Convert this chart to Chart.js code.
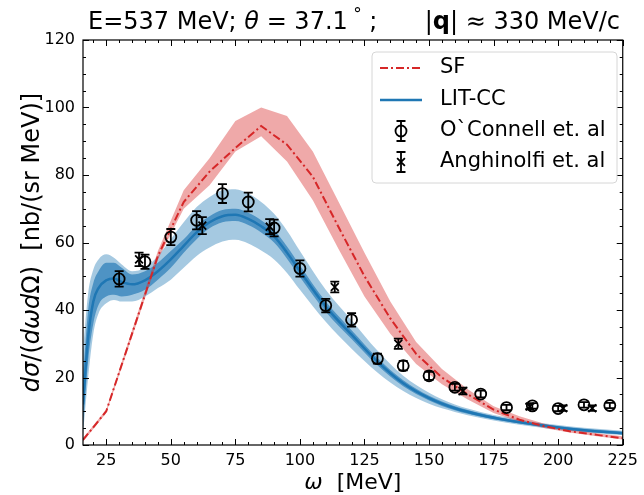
<!DOCTYPE html>
<html><head><meta charset="utf-8">
<script src="https://cdn.jsdelivr.net/npm/chart.js@4.4.1/dist/chart.umd.min.js"></script>
<style>html,body{margin:0;padding:0;background:#fff}canvas{display:block}</style>
</head><body>
<canvas id="c" width="644" height="495"></canvas>
<script>
const FONT = "'DejaVu Sans', sans-serif";

// ---- data ----
const xTicks = [25, 50, 75, 100, 125, 150, 175, 200, 225];
const yTicks = [0, 20, 40, 60, 80, 100, 120];

const sfOmega = [16, 25, 35, 45, 55, 65, 75, 85, 95, 105, 115, 125, 135, 145, 155, 165, 175, 185, 195, 205, 215, 225];
const sfLine  = [1.5, 10, 33, 56, 72, 81, 88, 94.5, 89, 79.5, 64.5, 50, 37.5, 27, 20, 15, 10.5, 7.5, 5.5, 4, 3, 2];
const sfUpper = [2, 10.5, 34, 57.5, 75.5, 85, 96, 100, 97.5, 87, 72, 57, 42.5, 30.5, 22.5, 16.5, 11.5, 8.5, 6.2, 4.6, 3.5, 2.6];
const sfLower = [1, 9.5, 32, 55, 70, 77, 87, 91.5, 84, 72.5, 58, 44, 33, 24, 18, 13.5, 9.5, 6.8, 5, 3.6, 2.6, 1.6];

const litOmega      = [16, 18, 20, 22, 25, 28, 31, 35, 40, 45, 50, 55, 60, 65, 70, 75, 80, 85, 90, 95, 100, 110, 120, 130, 140, 150, 160, 170, 180, 190, 200, 210, 225];
const litLine       = [12, 32, 42.5, 46.5, 48.8, 49.3, 48.3, 47.6, 48.8, 51.5, 55, 59, 63, 66, 67.8, 68.2, 67, 64.8, 61.8, 57, 51.5, 41, 32.7, 24.7, 18.3, 13.9, 10.9, 8.9, 7.4, 6.2, 5.2, 4.4, 3.5];
const litInnerUpper = [20, 40, 48, 51.5, 54, 54, 52.5, 50.5, 51.5, 54, 57.5, 61, 65, 67.8, 69.6, 70, 68.8, 66.6, 63.6, 58.8, 53.2, 42.5, 34, 25.8, 19.2, 14.6, 11.5, 9.4, 7.8, 6.6, 5.6, 4.8, 3.9];
const litInnerLower = [5, 25, 36, 41.5, 44, 44.5, 44, 44.5, 46, 49, 52.5, 57, 61, 64.2, 66, 66.4, 65.2, 63, 60, 55.2, 49.8, 39.5, 31.4, 23.6, 17.4, 13.2, 10.3, 8.4, 7, 5.8, 4.8, 4, 3.1];
const litOuterUpper = [28, 45, 52, 55, 56.5, 55.5, 53.5, 51.5, 52.5, 56, 61, 66, 70.5, 73.5, 75.5, 75.8, 74.5, 72, 68.5, 63.5, 57.5, 46, 37, 28, 20.5, 15.5, 12, 9.8, 8.2, 6.9, 5.9, 5.1, 4.2];
const litOuterLower = [3, 20, 33, 39, 42, 43, 42.5, 42.5, 44, 46.5, 49, 52.5, 56, 58.5, 60.3, 60.8, 59.7, 57.6, 55, 51, 46, 36.5, 28.5, 21.5, 16, 12.2, 9.8, 8, 6.6, 5.5, 4.5, 3.8, 2.9];

const ocOmega = [30, 40, 50, 60, 70, 80, 90, 100, 110, 120, 130, 140, 150, 160, 170, 180, 190, 200, 210, 220];
const ocValue = [49.2, 54.3, 61.6, 66.6, 74.5, 72, 64.3, 52.3, 41.3, 37.1, 25.6, 23.5, 20.5, 17.1, 15.1, 11.1, 11.6, 10.8, 11.9, 11.7];
const ocError = [2.3, 2.1, 2.4, 2.7, 2.8, 2.8, 2.5, 2.4, 2.0, 2.0, 1.5, 1.4, 1.2, 1.0, 1.0, 0.8, 0.8, 0.8, 0.8, 0.8];

const anOmega = [37.7, 62.2, 88.3, 113.5, 138.1, 163.1, 189, 201.9, 213.2];
const anValue = [55, 65, 64.7, 46.8, 30, 16, 11.4, 10.9, 10.9];
const anError = [2.0, 2.5, 2.2, 1.6, 1.5, 1.0, 0.8, 0.8, 0.8];

// ---- colours ----
const RED = '#d62728', BLUE = '#1f77b4';
const pts = (xs, ys) => xs.map((x, i) => ({x: x, y: ys[i]}));

const datasets = [
  {label: "O`Connell et. al", data: pts(ocOmega, ocValue), showLine: false, pointStyle: 'circle', pointRadius: 5.5,
   pointBorderWidth: 1.8, pointBorderColor: '#000', pointBackgroundColor: 'rgba(0,0,0,0)', order: 0},
  {label: 'Anghinolfi et. al', data: pts(anOmega, anValue), showLine: false, pointStyle: 'crossRot', pointRadius: 5.5,
   pointBorderWidth: 1.8, pointBorderColor: '#000', order: 0},
  {label: 'SF', data: pts(sfOmega, sfLine), borderColor: RED, borderWidth: 2, borderDash: [8, 3, 2, 3],
   pointRadius: 0, fill: false, tension: 0, order: 1},
  {label: 'LIT-CC', data: pts(litOmega, litLine), borderColor: BLUE, borderWidth: 2.5, pointRadius: 0,
   fill: false, cubicInterpolationMode: 'monotone', order: 1},
  {data: pts(sfOmega, sfUpper), borderWidth: 0, pointRadius: 0, fill: 5, backgroundColor: 'rgba(214,39,40,0.4)', tension: 0, order: 2},
  {data: pts(sfOmega, sfLower), borderWidth: 0, pointRadius: 0, fill: false, tension: 0, order: 2},
  {data: pts(litOmega, litInnerUpper), borderWidth: 0, pointRadius: 0, fill: 7, backgroundColor: 'rgba(31,119,180,0.65)', cubicInterpolationMode: 'monotone', order: 3},
  {data: pts(litOmega, litInnerLower), borderWidth: 0, pointRadius: 0, fill: false, cubicInterpolationMode: 'monotone', order: 3},
  {data: pts(litOmega, litOuterUpper), borderWidth: 0, pointRadius: 0, fill: 9, backgroundColor: 'rgba(31,119,180,0.4)', cubicInterpolationMode: 'monotone', order: 4},
  {data: pts(litOmega, litOuterLower), borderWidth: 0, pointRadius: 0, fill: false, cubicInterpolationMode: 'monotone', order: 4}
];

function drawSegments(ctx, segs, x, y, align) {
  let total = 0;
  const widths = segs.map(s => { ctx.font = (s[1] || '') + ' ' + Math.round(s[2]) + 'px ' + FONT; const w = ctx.measureText(s[0]).width; total += w; return w; });
  let cx = align === 'center' ? x - total / 2 : (align === 'right' ? x - total : x);
  segs.forEach((s, i) => {
    ctx.font = (s[1] || '') + ' ' + Math.round(s[2]) + 'px ' + FONT;
    ctx.fillText(s[0], cx, y + (s[3] || 0));
    cx += widths[i];
  });
}

const decor = {
  id: 'decor',
  afterDatasetsDraw(chart) {
    const ctx = chart.ctx, xs = chart.scales.x, ys = chart.scales.y;
    ctx.save();
    ctx.beginPath();
    ctx.rect(chart.chartArea.left, chart.chartArea.top, chart.chartArea.right - chart.chartArea.left, chart.chartArea.bottom - chart.chartArea.top);
    ctx.clip();
    ctx.strokeStyle = '#000'; ctx.lineWidth = 1.8;
    const err = (xv, yv, ev) => {
      xv.forEach((v, i) => {
        const px = xs.getPixelForValue(v);
        const pt = ys.getPixelForValue(yv[i] + ev[i]);
        const pb = ys.getPixelForValue(yv[i] - ev[i]);
        ctx.beginPath();
        ctx.moveTo(px, pt); ctx.lineTo(px, pb);
        ctx.moveTo(px - 4.5, pt); ctx.lineTo(px + 4.5, pt);
        ctx.moveTo(px - 4.5, pb); ctx.lineTo(px + 4.5, pb);
        ctx.stroke();
      });
    };
    err(ocOmega, ocValue, ocError);
    err(anOmega, anValue, anError);
    ctx.restore();
  },
  afterDraw(chart) {
    const ctx = chart.ctx, xs = chart.scales.x, ys = chart.scales.y, a = chart.chartArea;
    ctx.save();
    ctx.strokeStyle = '#000'; ctx.lineWidth = 1.2;
    ctx.strokeRect(a.left, a.top, a.right - a.left, a.bottom - a.top);
    ctx.lineWidth = 1;
    ctx.beginPath();
    for (let v = 20; v <= 225; v += 5) {
      const px = Math.round(xs.getPixelForValue(v)) + 0.5;
      const L = (v % 25 === 0) ? 6 : 3;
      ctx.moveTo(px, a.bottom); ctx.lineTo(px, a.bottom - L);
      ctx.moveTo(px, a.top); ctx.lineTo(px, a.top + L);
    }
    for (let v = 0; v <= 120; v += 5) {
      const py = Math.round(ys.getPixelForValue(v)) + 0.5;
      const L = (v % 20 === 0) ? 6 : 3;
      ctx.moveTo(a.left, py); ctx.lineTo(a.left + L, py);
      ctx.moveTo(a.right, py); ctx.lineTo(a.right - L, py);
    }
    ctx.stroke();

    ctx.fillStyle = '#000';
    ctx.textBaseline = 'alphabetic';
    // title
    drawSegments(ctx, [['E=537 MeV; ', '', 24], ['θ', 'italic', 24], [' = 37.1', '', 24], [' °', '', 17, -9], [' ;', '', 24]], 88, 29, 'left');
    drawSegments(ctx, [['|', '', 24], ['q', 'bold', 24], ['|', '', 24], [' ≈ 330 MeV/c', '', 24]], 620, 29, 'right');
    // x label
    drawSegments(ctx, [['ω', 'italic', 22], ['  [MeV]', '', 22]], (a.left + a.right) / 2, 489, 'center');
    // y label
    ctx.save();
    ctx.translate(39, (a.top + a.bottom) / 2);
    ctx.rotate(-Math.PI / 2);
    drawSegments(ctx, [['d', 'italic', 24], ['σ', 'italic', 24], ['/(', '', 24], ['d', 'italic', 24], ['ω', 'italic', 24], ['d', 'italic', 24], ['Ω', '', 24], [')  [nb/(sr MeV)]', '', 24]], 0, 0, 'center');
    ctx.restore();

    // legend
    const lx = 372, ly = 52, lw = 245, lh = 131;
    ctx.beginPath();
    if (ctx.roundRect) ctx.roundRect(lx, ly, lw, lh, 4); else ctx.rect(lx, ly, lw, lh);
    ctx.fillStyle = 'rgba(255,255,255,0.8)'; ctx.fill();
    ctx.strokeStyle = '#d6d6d6'; ctx.lineWidth = 1; ctx.stroke();
    const rows = [68, 100, 131, 162];
    ctx.lineWidth = 2; ctx.strokeStyle = RED; ctx.setLineDash([8, 3, 2, 3]);
    ctx.beginPath(); ctx.moveTo(380, rows[0]); ctx.lineTo(422, rows[0]); ctx.stroke();
    ctx.setLineDash([]);
    ctx.lineWidth = 2.5; ctx.strokeStyle = BLUE;
    ctx.beginPath(); ctx.moveTo(380, rows[1]); ctx.lineTo(422, rows[1]); ctx.stroke();
    ctx.strokeStyle = '#000'; ctx.lineWidth = 1.8;
    [rows[2], rows[3]].forEach((ry, k) => {
      ctx.beginPath();
      ctx.moveTo(401, ry - 10); ctx.lineTo(401, ry + 10);
      ctx.moveTo(396.5, ry - 10); ctx.lineTo(405.5, ry - 10);
      ctx.moveTo(396.5, ry + 10); ctx.lineTo(405.5, ry + 10);
      ctx.stroke();
      ctx.beginPath();
      if (k === 0) { ctx.arc(401, ry, 5.5, 0, Math.PI * 2); }
      else { const d = 5.5 * Math.SQRT1_2; ctx.moveTo(401 - d, ry - d); ctx.lineTo(401 + d, ry + d); ctx.moveTo(401 + d, ry - d); ctx.lineTo(401 - d, ry + d); }
      ctx.stroke();
    });
    ctx.fillStyle = '#000'; ctx.font = '21px ' + FONT; ctx.textBaseline = 'middle';
    ['SF', 'LIT-CC', 'O`Connell et. al', 'Anghinolfi et. al'].forEach((t, i) => ctx.fillText(t, 440, rows[i]));
    ctx.restore();
  }
};

new Chart(document.getElementById('c'), {
  type: 'line',
  data: {datasets: datasets},
  options: {
    responsive: false, animation: false,
    layout: {padding: {top: 40, right: 17, left: 0, bottom: 0}},
    plugins: {legend: {display: false}, title: {display: false}, tooltip: {enabled: false}},
    scales: {
      x: {type: 'linear', min: 16, max: 225,
          afterBuildTicks: s => { s.ticks = xTicks.map(v => ({value: v})); },
          afterFit: s => { s.height = 50; },
          grid: {display: false, drawTicks: false}, border: {display: false},
          ticks: {color: '#000', font: {family: FONT, size: 16}, padding: 6, maxRotation: 0, autoSkip: false}},
      y: {type: 'linear', min: 0, max: 120,
          afterBuildTicks: s => { s.ticks = yTicks.map(v => ({value: v})); },
          afterFit: s => { s.width = 83; },
          grid: {display: false, drawTicks: false}, border: {display: false},
          ticks: {color: '#000', font: {family: FONT, size: 16}, padding: 8, autoSkip: false}}
    }
  },
  plugins: [decor]
});
</script>
</body></html>
